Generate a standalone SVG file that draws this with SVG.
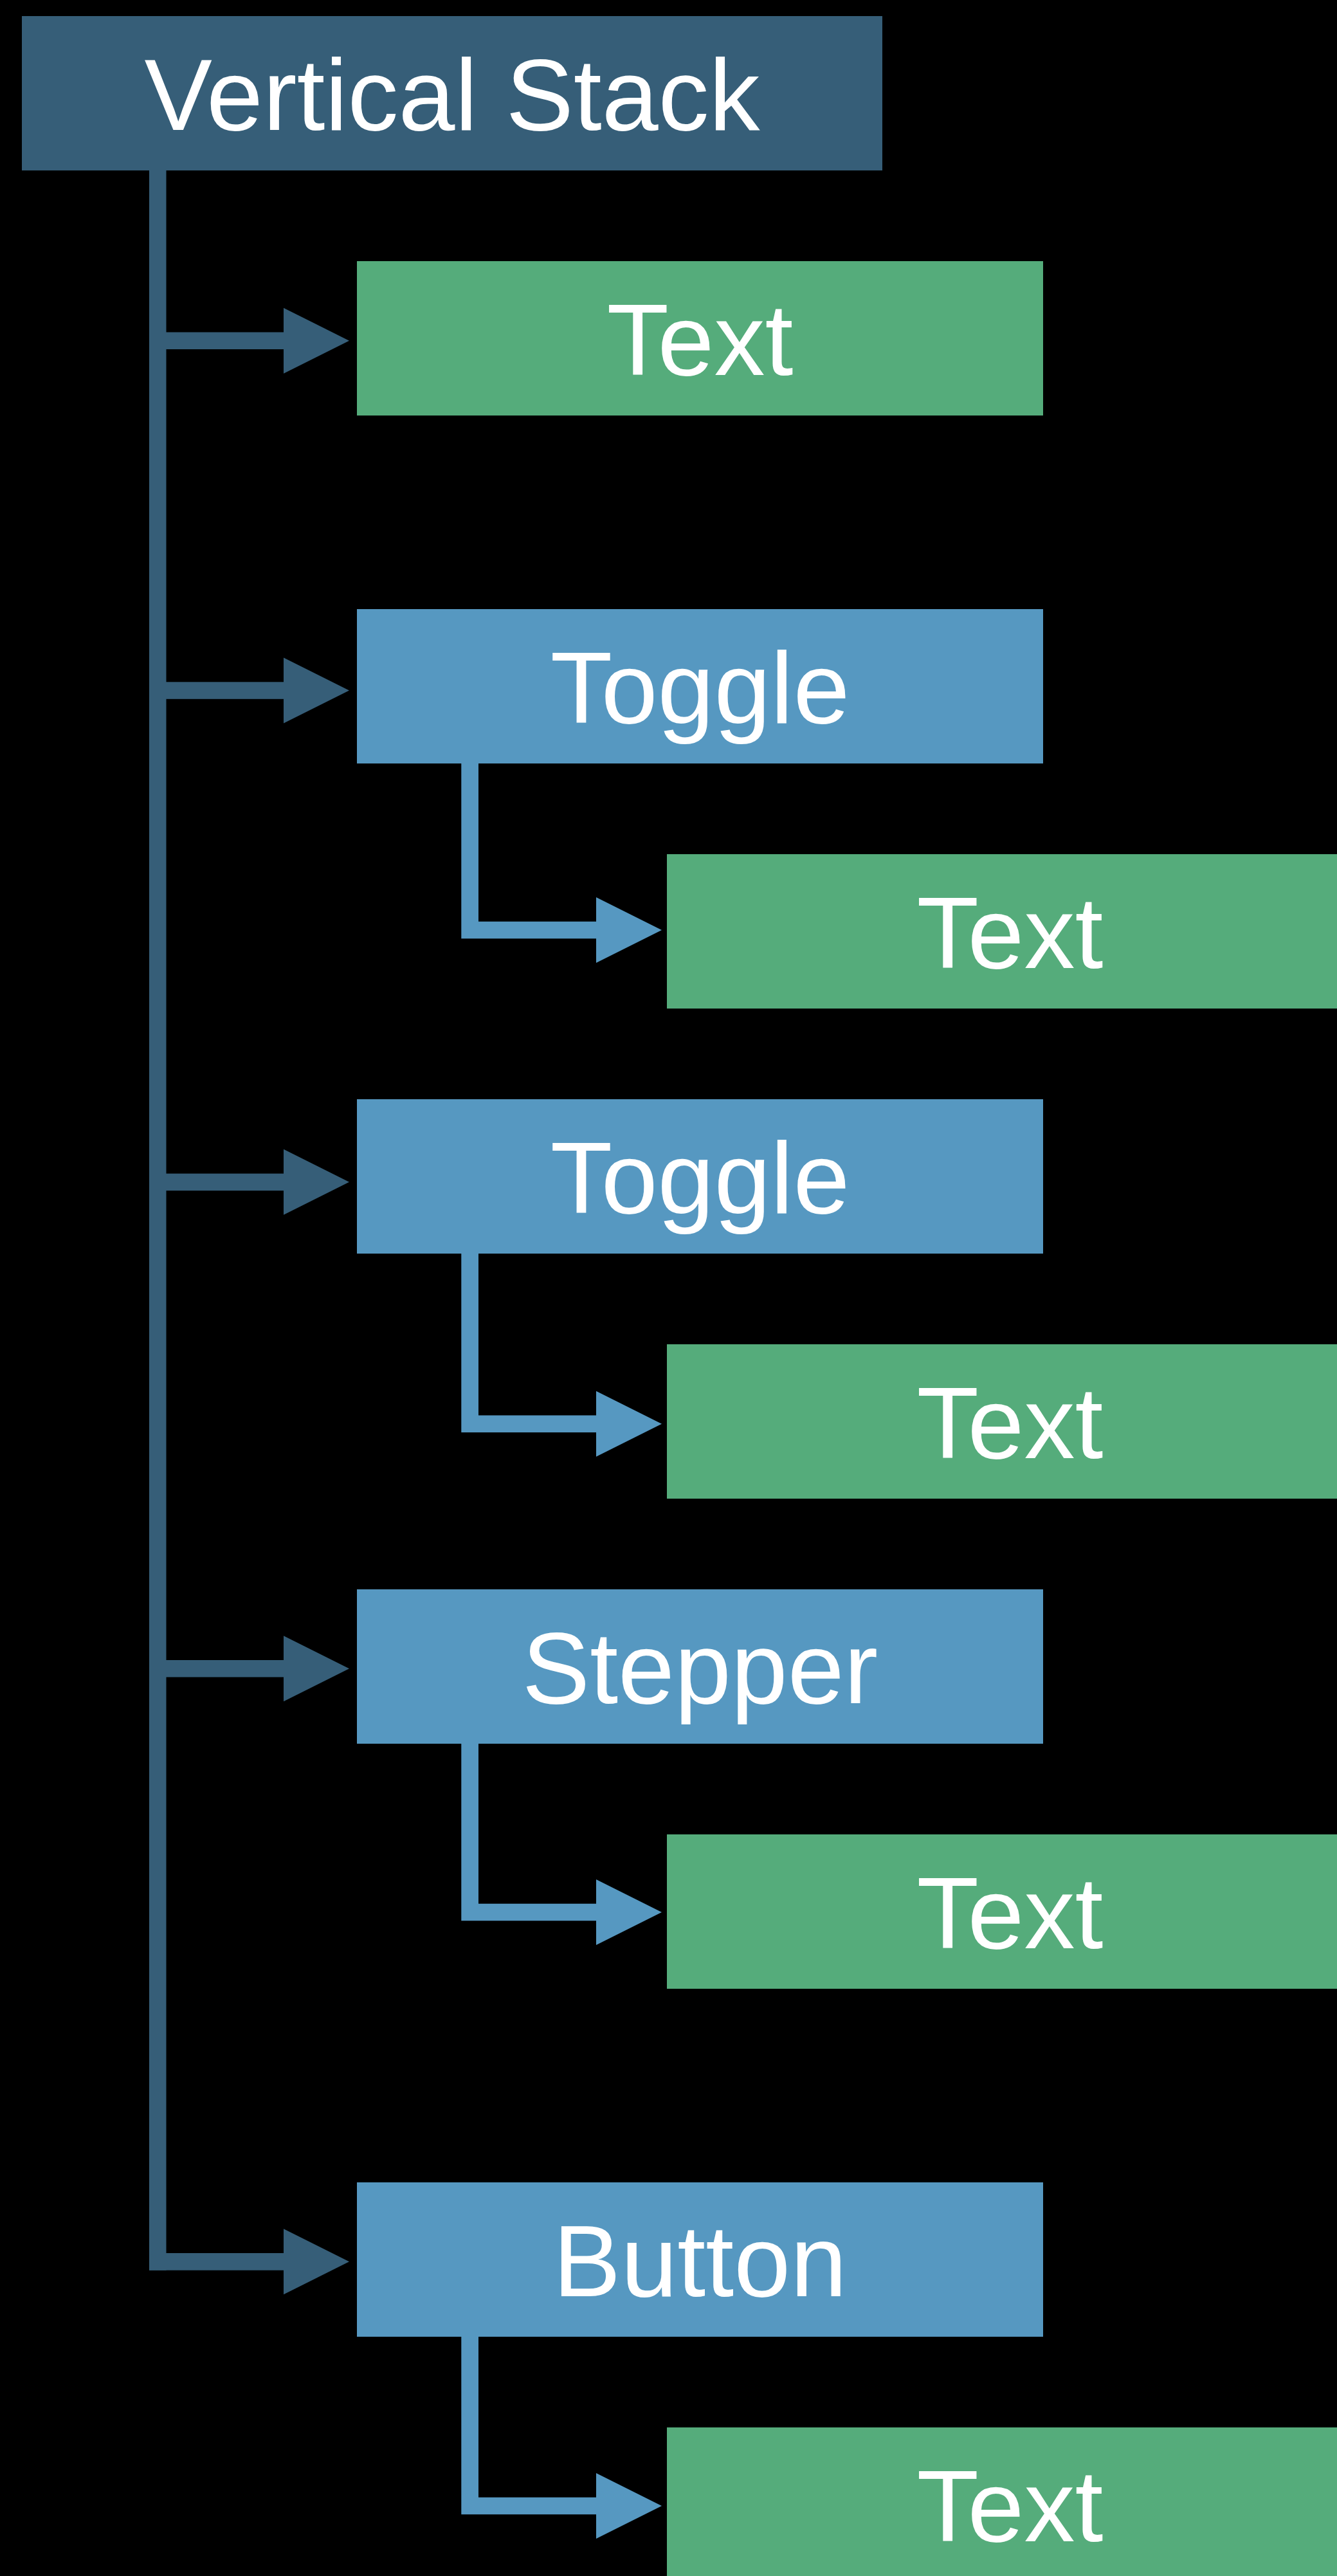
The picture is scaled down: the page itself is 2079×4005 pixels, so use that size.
<svg xmlns="http://www.w3.org/2000/svg" xmlns:xlink="http://www.w3.org/1999/xlink" width="2079" height="4005" viewBox="0 0 2079 4005">
  <style>
    .stack { fill: #365E78; }
    .ctrl { fill: #5698C1; }
    .leaf { fill: #55AC7B; }
    .lbl { fill: #FFFFFF; font-family: "Liberation Sans", Arial, sans-serif; font-size: 158px; text-anchor: middle; }
    .cd { fill: #365E78; }
    .cl { fill: #5698C1; }
  </style>
  <defs>
    <polygon id="head" points="0,-51 102,0 0,51"/>
  </defs>
  <rect x="0" y="0" width="2079" height="4005" fill="#000000"/>

  <g id="connectors">
    <!-- main spine -->
    <rect class="cd" x="232" y="265" width="26.5" height="3264.7"/>
    <!-- main branches -->
    <rect class="cd" x="258" y="516.5" width="184" height="26.5"/>
    <use xlink:href="#head" class="cd" x="441" y="529.7"/>
    <rect class="cd" x="258" y="1060.3" width="184" height="26.5"/>
    <use xlink:href="#head" class="cd" x="441" y="1073.5"/>
    <rect class="cd" x="258" y="1824.6" width="184" height="26.5"/>
    <use xlink:href="#head" class="cd" x="441" y="1837.8"/>
    <rect class="cd" x="258" y="2581" width="184" height="26.5"/>
    <use xlink:href="#head" class="cd" x="441" y="2594.2"/>
    <rect class="cd" x="232" y="3503" width="210" height="26.7"/>
    <use xlink:href="#head" class="cd" x="441" y="3516.3"/>
    <!-- child branches -->
    <path class="cl" d="M717.3,1186 H744 V1432.7 H928 V1459.3 H717.3 Z"/>
    <use xlink:href="#head" class="cl" x="927" y="1446"/>
    <path class="cl" d="M717.3,1948 H744 V2200.4 H928 V2227 H717.3 Z"/>
    <use xlink:href="#head" class="cl" x="927" y="2213.7"/>
    <path class="cl" d="M717.3,2710 H744 V2959.7 H928 V2986.3 H717.3 Z"/>
    <use xlink:href="#head" class="cl" x="927" y="2973"/>
    <path class="cl" d="M717.3,3632 H744 V3882.7 H928 V3909.3 H717.3 Z"/>
    <use xlink:href="#head" class="cl" x="927" y="3896"/>
  </g>

  <g id="node-vstack">
    <rect class="stack" x="34" y="25" width="1338" height="240"/>
    <text class="lbl" x="703" y="202">Vertical Stack</text>
  </g>
  <g id="node-text1">
    <rect class="leaf" x="555" y="406" width="1067" height="240"/>
    <text class="lbl" x="1088.5" y="583">Text</text>
  </g>
  <g id="node-toggle1">
    <rect class="ctrl" x="555" y="947" width="1067" height="240"/>
    <text class="lbl" x="1088.5" y="1124">Toggle</text>
  </g>
  <g id="node-text2">
    <rect class="leaf" x="1037" y="1328" width="1067" height="240"/>
    <text class="lbl" x="1570.5" y="1505">Text</text>
  </g>
  <g id="node-toggle2">
    <rect class="ctrl" x="555" y="1709" width="1067" height="240"/>
    <text class="lbl" x="1088.5" y="1886">Toggle</text>
  </g>
  <g id="node-text3">
    <rect class="leaf" x="1037" y="2090" width="1067" height="240"/>
    <text class="lbl" x="1570.5" y="2267">Text</text>
  </g>
  <g id="node-stepper">
    <rect class="ctrl" x="555" y="2471" width="1067" height="240"/>
    <text class="lbl" x="1088.5" y="2648">Stepper</text>
  </g>
  <g id="node-text4">
    <rect class="leaf" x="1037" y="2852" width="1067" height="240"/>
    <text class="lbl" x="1570.5" y="3029">Text</text>
  </g>
  <g id="node-button">
    <rect class="ctrl" x="555" y="3393" width="1067" height="240"/>
    <text class="lbl" x="1088.5" y="3570">Button</text>
  </g>
  <g id="node-text5">
    <rect class="leaf" x="1037" y="3774" width="1067" height="240"/>
    <text class="lbl" x="1570.5" y="3951">Text</text>
  </g>
</svg>
